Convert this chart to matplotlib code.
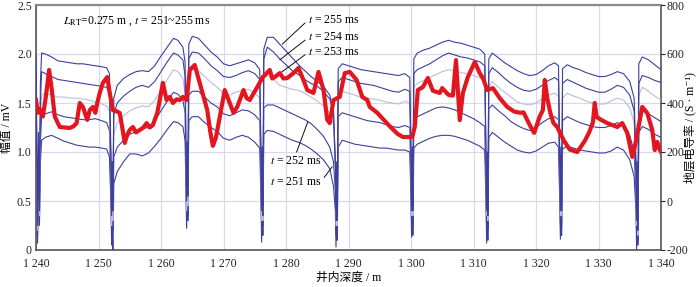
import matplotlib
matplotlib.use("Agg")
import matplotlib.pyplot as plt
import numpy as np

plt.rcParams['font.family'] = ['Liberation Serif', 'Noto Sans CJK SC', 'DejaVu Sans']
plt.rcParams['mathtext.fontset'] = 'stix'
plt.rcParams['axes.unicode_minus'] = False

# ---------------- data ----------------
depth_blue = [
    1240.0, 1240.25, 1240.4, 1240.55, 1240.7, 1240.9, 1241.5, 1242.5, 1243.5, 1244.5, 1245.5, 1246.5, 1247.5, 1248.5, 1249.5, 1250.5, 1251.3, 1251.75,
    1252.0, 1252.1, 1252.2, 1252.3, 1252.45,
    1253, 1254, 1255, 1256, 1257, 1258, 1259, 1260, 1261, 1262, 1262.7, 1263.5, 1263.85,
    1264.0, 1264.1, 1264.2, 1264.3, 1264.45,
    1265, 1266, 1267, 1268, 1269, 1270, 1271, 1272, 1273, 1274, 1275, 1275.8,
    1276.0, 1276.1, 1276.2, 1276.3, 1276.45,
    1277, 1278, 1279, 1280, 1281, 1282, 1283, 1284, 1285, 1286, 1287, 1287.6,
    1287.9, 1288.0, 1288.1, 1288.2, 1288.35,
    1289, 1290, 1291, 1292, 1293, 1294, 1295, 1296, 1297, 1298, 1299, 1299.8,
    1300.0, 1300.1, 1300.2, 1300.3, 1300.45,
    1301, 1302, 1303, 1304, 1305, 1306, 1307, 1308, 1309, 1310, 1311, 1311.8,
    1312.0, 1312.1, 1312.2, 1312.3, 1312.45,
    1313, 1314, 1315, 1316, 1317, 1318, 1319, 1320, 1321, 1322, 1323, 1323.6,
    1323.8, 1323.9, 1324.0, 1324.1, 1324.25,
    1325, 1326, 1327, 1328, 1329, 1330, 1331, 1332, 1333, 1334, 1335, 1335.7,
    1336.0, 1336.1, 1336.2, 1336.3, 1336.45,
    1337, 1338, 1339, 1340,
]

amp_255 = [
    1.98, 0.35, 1.20, 0.50, 1.70, 2.01, 2.00, 1.97, 1.93, 1.92, 1.91, 1.90, 1.90, 1.89, 1.88, 1.87, 1.86, 1.80,
    0.95, 0.45, 0.90, 0.50, 1.55,
    1.68, 1.75, 1.79, 1.82, 1.83, 1.82, 1.88, 1.98, 2.07, 2.16, 2.14, 2.07, 1.92,
    1.05, 0.60, 1.10, 0.65, 2.10,
    2.18, 2.16, 2.09, 2.02, 1.97, 1.90, 1.88, 1.90, 1.92, 1.94, 1.91, 1.84,
    1.00, 0.50, 1.05, 0.45, 2.05,
    2.17, 2.17, 2.10, 2.03, 1.96, 1.89, 1.83, 1.77, 1.72, 1.67, 1.58, 1.42,
    0.90, 0.40, 0.90, 0.35, 1.85,
    1.90, 1.88, 1.86, 1.84, 1.83, 1.82, 1.81, 1.80, 1.79, 1.78, 1.80, 1.76,
    1.00, 0.50, 1.05, 0.45, 1.95,
    2.01, 2.04, 2.06, 2.09, 2.12, 2.14, 2.12, 2.11, 2.09, 2.07, 2.05, 2.00,
    1.00, 0.45, 1.00, 0.40, 1.95,
    2.01, 1.96, 1.91, 1.87, 1.83, 1.80, 1.78, 1.79, 1.83, 1.88, 1.91, 1.88,
    1.00, 0.50, 1.05, 0.45, 1.85,
    1.89, 1.86, 1.84, 1.81, 1.79, 1.77, 1.77, 1.79, 1.82, 1.80, 1.72, 1.55,
    0.90, 0.40, 0.90, 0.30, 1.90,
    1.97, 1.94, 1.89, 1.84,
]

amp_254 = [
    1.80, 0.25, 1.00, 0.40, 1.50, 1.82, 1.80, 1.77, 1.74, 1.73, 1.72, 1.71, 1.70, 1.69, 1.68, 1.67, 1.66, 1.60,
    0.85, 0.35, 0.75, 0.40, 1.38,
    1.50, 1.57, 1.62, 1.66, 1.68, 1.66, 1.72, 1.82, 1.92, 2.01, 1.99, 1.94, 1.78,
    0.95, 0.50, 0.95, 0.55, 1.95,
    2.02, 2.01, 1.95, 1.88, 1.83, 1.77, 1.76, 1.78, 1.81, 1.83, 1.80, 1.74,
    0.90, 0.40, 0.95, 0.35, 1.95,
    2.07, 2.02, 1.95, 1.89, 1.83, 1.79, 1.74, 1.70, 1.67, 1.62, 1.54, 1.40,
    0.85, 0.30, 0.80, 0.30, 1.72,
    1.76, 1.74, 1.72, 1.70, 1.69, 1.68, 1.66, 1.64, 1.62, 1.61, 1.64, 1.62,
    0.90, 0.40, 0.95, 0.40, 1.80,
    1.84, 1.87, 1.90, 1.94, 1.98, 2.01, 1.99, 1.97, 1.96, 1.94, 1.92, 1.88,
    0.90, 0.40, 0.90, 0.35, 1.80,
    1.86, 1.81, 1.75, 1.70, 1.66, 1.63, 1.62, 1.64, 1.68, 1.73, 1.76, 1.73,
    0.90, 0.40, 0.95, 0.40, 1.70,
    1.74, 1.71, 1.68, 1.65, 1.63, 1.61, 1.61, 1.64, 1.68, 1.66, 1.58, 1.42,
    0.80, 0.30, 0.80, 0.20, 1.70,
    1.78, 1.76, 1.73, 1.71,
]

amp_253 = [
    1.60, 0.20, 0.90, 0.35, 1.30, 1.58, 1.60, 1.58, 1.56, 1.56, 1.55, 1.55, 1.54, 1.53, 1.51, 1.49, 1.47, 1.42,
    0.75, 0.25, 0.60, 0.30, 1.18,
    1.30, 1.37, 1.42, 1.45, 1.47, 1.46, 1.53, 1.63, 1.74, 1.84, 1.82, 1.75, 1.60,
    0.85, 0.40, 0.85, 0.45, 1.80,
    1.84, 1.83, 1.77, 1.71, 1.66, 1.60, 1.58, 1.61, 1.63, 1.64, 1.60, 1.55,
    0.80, 0.30, 0.85, 0.30, 1.75,
    1.78, 1.74, 1.68, 1.66, 1.64, 1.63, 1.60, 1.56, 1.52, 1.47, 1.40, 1.28,
    0.80, 0.25, 0.70, 0.25, 1.58,
    1.62, 1.60, 1.58, 1.56, 1.55, 1.54, 1.53, 1.51, 1.50, 1.49, 1.52, 1.50,
    0.80, 0.35, 0.85, 0.35, 1.66,
    1.70, 1.73, 1.76, 1.79, 1.82, 1.84, 1.83, 1.81, 1.80, 1.78, 1.76, 1.72,
    0.80, 0.35, 0.80, 0.30, 1.66,
    1.72, 1.66, 1.61, 1.56, 1.51, 1.49, 1.48, 1.50, 1.54, 1.58, 1.60, 1.57,
    0.80, 0.35, 0.85, 0.35, 1.55,
    1.60, 1.57, 1.55, 1.52, 1.50, 1.49, 1.49, 1.52, 1.55, 1.53, 1.45, 1.30,
    0.70, 0.25, 0.70, 0.15, 1.58,
    1.66, 1.62, 1.57, 1.53,
]

amp_252 = [
    1.40, 0.15, 0.70, 0.30, 1.10, 1.36, 1.39, 1.41, 1.38, 1.36, 1.35, 1.34, 1.33, 1.33, 1.34, 1.32, 1.30, 1.22,
    0.60, 0.15, 0.45, 0.20, 0.95,
    1.05, 1.12, 1.18, 1.21, 1.24, 1.25, 1.32, 1.42, 1.52, 1.61, 1.59, 1.53, 1.40,
    0.70, 0.30, 0.70, 0.35, 1.58,
    1.62, 1.62, 1.56, 1.50, 1.46, 1.39, 1.37, 1.40, 1.43, 1.42, 1.38, 1.32,
    0.65, 0.20, 0.70, 0.25, 1.45,
    1.48, 1.48, 1.45, 1.42, 1.39, 1.36, 1.33, 1.29, 1.23, 1.16, 1.05, 0.90,
    0.60, 0.15, 0.55, 0.20, 1.36,
    1.40, 1.38, 1.36, 1.34, 1.32, 1.31, 1.30, 1.28, 1.26, 1.25, 1.27, 1.25,
    0.65, 0.25, 0.70, 0.25, 1.32,
    1.36, 1.39, 1.42, 1.45, 1.46, 1.45, 1.43, 1.40, 1.37, 1.34, 1.30, 1.26,
    0.65, 0.20, 0.60, 0.20, 1.44,
    1.48, 1.42, 1.37, 1.31, 1.27, 1.24, 1.22, 1.25, 1.30, 1.34, 1.36, 1.33,
    0.65, 0.25, 0.70, 0.25, 1.32,
    1.36, 1.33, 1.30, 1.28, 1.26, 1.25, 1.25, 1.27, 1.30, 1.27, 1.17, 1.00,
    0.55, 0.15, 0.55, 0.10, 1.35,
    1.42, 1.39, 1.35, 1.31,
]

amp_251 = [
    1.15, 0.07, 0.60, 0.25, 0.90, 1.12, 1.15, 1.17, 1.14, 1.11, 1.09, 1.07, 1.06, 1.05, 1.05, 1.04, 1.03, 0.95,
    0.45, 0.05, 0.30, 0.00, 0.68,
    0.80, 0.90, 0.98, 0.98, 0.96, 0.99, 1.06, 1.14, 1.23, 1.31, 1.30, 1.26, 1.12,
    0.55, 0.22, 0.55, 0.30, 1.32,
    1.36, 1.36, 1.30, 1.25, 1.21, 1.14, 1.12, 1.15, 1.17, 1.15, 1.10, 1.04,
    0.50, 0.08, 0.55, 0.15, 1.18,
    1.22, 1.21, 1.18, 1.15, 1.12, 1.10, 1.07, 1.03, 0.98, 0.92, 0.83, 0.65,
    0.40, 0.03, 0.40, 0.10, 1.05,
    1.12, 1.10, 1.08, 1.07, 1.06, 1.05, 1.04, 1.04, 1.03, 1.02, 1.02, 1.00,
    0.50, 0.13, 0.55, 0.15, 1.04,
    1.08, 1.11, 1.14, 1.16, 1.17, 1.17, 1.16, 1.14, 1.12, 1.09, 1.06, 1.02,
    0.50, 0.07, 0.45, 0.10, 1.15,
    1.20, 1.15, 1.10, 1.06, 1.02, 1.00, 0.99, 1.01, 1.05, 1.09, 1.10, 1.05,
    0.50, 0.11, 0.55, 0.15, 1.03,
    1.06, 1.04, 1.02, 1.01, 1.00, 0.99, 0.99, 1.01, 1.05, 1.02, 0.92, 0.75,
    0.40, 0.00, 0.40, 0.05, 1.20,
    1.26, 1.23, 1.18, 1.15,
]

depth_red = [
    1240.0, 1240.3, 1240.6, 1241.1, 1241.6, 1242.1, 1242.5, 1243.0, 1243.8, 1244.6, 1245.4, 1246.0, 1246.5, 1247.0, 1247.5,
    1248.2, 1248.6, 1249.1, 1249.5, 1249.8, 1250.2, 1250.7, 1251.4, 1251.8, 1252.3, 1253.0, 1253.4, 1253.8, 1254.2, 1254.6,
    1255.0, 1255.5, 1256.0, 1256.6, 1257.2, 1257.7, 1258.2, 1258.7, 1259.4, 1259.8, 1260.3, 1260.9, 1261.4, 1261.9, 1262.5,
    1263.0, 1263.5, 1264.1, 1264.6, 1265.4, 1266.2, 1267.4, 1267.9, 1268.3, 1268.8, 1269.4, 1270.2, 1271.0, 1271.6, 1272.2,
    1273.2, 1273.7, 1274.2, 1275.4, 1276.3, 1277.4, 1277.8, 1278.2, 1279.0, 1279.6, 1280.2, 1281.2, 1282.0, 1282.6, 1283.4,
    1284.4, 1285.2, 1286.0, 1286.6, 1287.0, 1287.6, 1288.6, 1289.4, 1290.2, 1291.3, 1292.2, 1293.0, 1293.4, 1294.6, 1295.5,
    1296.6, 1297.8, 1298.7, 1300.2, 1300.6, 1301.1, 1301.9, 1302.7, 1303.5, 1304.6, 1305.0, 1306.0, 1306.7, 1307.2, 1307.8,
    1308.3, 1309.1, 1310.2, 1311.0, 1311.5, 1312.2, 1313.1, 1314.2, 1315.4, 1316.5, 1317.5, 1318.0, 1319.0, 1319.7, 1320.6,
    1321.1, 1321.4, 1321.8, 1322.3, 1322.8, 1323.4, 1324.4, 1325.4, 1326.6, 1327.8, 1328.5, 1329.1, 1329.4, 1329.7, 1330.5,
    1331.4, 1333.0, 1333.8, 1334.6, 1335.4, 1335.8, 1337.0, 1337.8, 1338.6, 1339.0, 1339.4, 1339.7, 1340.0,
]

cond_red = [
    412, 360, 375, 345, 430, 535, 460, 345, 302, 300, 298, 305, 318, 400, 384,
    331, 371, 384, 360, 400, 441, 482, 506, 441, 371, 365, 359, 300, 237, 270,
    290, 302, 280, 290, 300, 318, 300, 310, 359, 412, 482, 412, 425, 400, 415,
    412, 425, 412, 535, 555, 482, 371, 280, 225, 260, 343, 453, 400, 360, 384,
    453, 420, 412, 465, 506, 535, 500, 506, 522, 500, 502, 522, 543, 506, 453,
    441, 527, 453, 331, 318, 412, 425, 522, 527, 494, 425, 412, 384, 360, 335,
    305, 275, 261, 261, 302, 453, 465, 502, 450, 441, 461, 433, 430, 575, 330,
    441, 506, 567, 522, 502, 453, 461, 420, 384, 365, 360, 362, 310, 278, 345,
    371, 494, 420, 359, 318, 302, 249, 210, 200, 245, 280, 320, 400, 343, 330,
    318, 302, 318, 278, 180, 220, 384, 359, 290, 208, 241, 215, 200,
]

x_ticks = [1240, 1250, 1260, 1270, 1280, 1290, 1300, 1310, 1320, 1330, 1340]
x_tick_labels = ["1 240", "1 250", "1 260", "1 270", "1 280", "1 290", "1 300", "1 310", "1 320", "1 330", "1 340"]
y_ticks = [0, 0.5, 1.0, 1.5, 2.0, 2.5]
y_tick_labels = ["0", "0.5", "1.0", "1.5", "2.0", "2.5"]
y2_ticks = [-200, 0, 200, 400, 600, 800]

# ---------------- figure ----------------
fig = plt.figure(figsize=(7.0, 2.87), dpi=100)
ax = fig.add_axes([36 / 700, 1 - 250 / 287, (661 - 36) / 700, (250 - 5) / 287])

dark_blue = '#3d3f9c'
light_blue = '#bcbcdf'
ax.plot(depth_blue, amp_251, color=dark_blue, lw=0.8, zorder=3)
ax.plot(depth_blue, amp_252, color=dark_blue, lw=0.8, zorder=3)
ax.plot(depth_blue, amp_253, color=light_blue, lw=0.8, zorder=3)
ax.plot(depth_blue, amp_254, color=dark_blue, lw=0.8, zorder=3)
ax.plot(depth_blue, amp_255, color=dark_blue, lw=0.8, zorder=3)

ax.set_xlim(1240, 1340)
ax.set_ylim(0, 2.5)
ax.set_xticks(x_ticks)
ax.set_xticklabels(x_tick_labels)
ax.set_yticks(y_ticks)
ax.set_yticklabels(y_tick_labels)
ax.grid(True, color='#d9d9ee', lw=0.9, zorder=0)
ax.set_axisbelow(True)
ax.tick_params(axis='y', length=0, labelsize=8.5, colors='#222222', pad=3)
ax.tick_params(axis='x', length=0, labelsize=8.5, colors='#222222', pad=6)

for side in ['left', 'bottom', 'right']:
    ax.spines[side].set_color('#555555')
    ax.spines[side].set_linewidth(1.2)
ax.spines['top'].set_color('#8a8a8a')
ax.spines['top'].set_linewidth(1.6)

ax.set_xlabel('井内深度 / m', fontsize=8.5, labelpad=1)
ax.set_ylabel('幅值 / mV', fontsize=8.5, labelpad=3)

ax2 = ax.twinx()
ax2.plot(depth_red, cond_red, color='#e3161f', lw=3.0, solid_joinstyle='round', zorder=5)
ax2.set_ylim(-200, 800)
ax2.set_yticks(y2_ticks)
ax2.tick_params(axis='y', length=3, width=0.8, labelsize=8.5, colors='#222222', pad=1)
ax2.set_ylabel('地层电导率 / (S · m⁻¹)', fontsize=8.5,
               family=['Liberation Serif', 'Noto Sans CJK SC', 'DejaVu Sans'])
ax2.yaxis.set_label_coords(1.0365, 0.5)
for side in ['left', 'bottom', 'right', 'top']:
    ax2.spines[side].set_visible(False)

# annotations
ax.text(1244.3, 2.33, r'$L_{\rm RT}$=0.275 m , $t$ = 251~255 ms', fontsize=8.5, ha='left', va='center')

ann_kw = dict(fontsize=8.5, ha='left', va='center', textcoords='data',
              arrowprops=dict(arrowstyle='-', color='#111111', lw=0.7, shrinkA=0, shrinkB=0, relpos=(0, 0.45)))
ax.annotate(r'$t$ = 255 ms', xy=(1279.4, 2.10), xytext=(1283.5, 2.35), **ann_kw)
ax.annotate(r'$t$ = 254 ms', xy=(1279.0, 1.94), xytext=(1283.5, 2.17), **ann_kw)
ax.annotate(r'$t$ = 253 ms', xy=(1279.2, 1.81), xytext=(1283.5, 2.02), **ann_kw)
ax.annotate(r'$t$ = 252 ms', xy=(1283.5, 1.31), xytext=(1277.4, 0.91), fontsize=8.5, ha='left', va='center',
            arrowprops=dict(arrowstyle='-', color='#111111', lw=0.7, shrinkA=0, shrinkB=0, relpos=(0.5, 1.0)))
ax.annotate(r'$t$ = 251 ms', xy=(1287.4, 0.85), xytext=(1277.4, 0.69), fontsize=8.5, ha='left', va='center',
            arrowprops=dict(arrowstyle='-', color='#111111', lw=0.7, shrinkA=0, shrinkB=0, relpos=(1.0, 0.6)))

fig.savefig('out.png', dpi=100)
